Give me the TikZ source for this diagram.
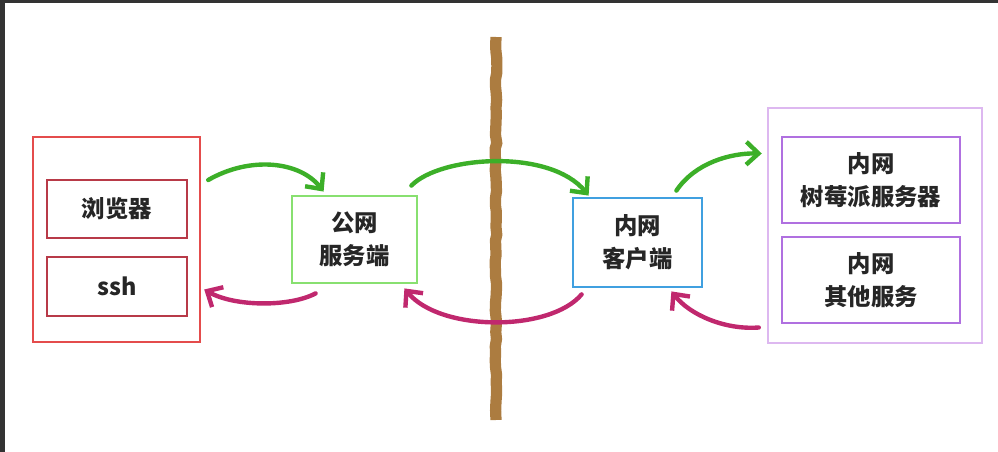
\documentclass[tikz,border=0pt]{standalone}
\usepackage{fontspec}
\newfontfamily\cjk{Noto Sans CJK SC}
\usetikzlibrary{arrows.meta,calc,decorations.pathmorphing}
\definecolor{framegray}{HTML}{333333}
\definecolor{textgray}{HTML}{262626}
\definecolor{arrowgreen}{HTML}{3CAF28}
\definecolor{arrowpink}{HTML}{C0286E}
\definecolor{boxred}{HTML}{E44C4C}
\definecolor{innerred}{HTML}{B83A48}
\definecolor{boxgreen}{HTML}{88E070}
\definecolor{boxblue}{HTML}{40A0E0}
\definecolor{outerpurple}{HTML}{DDB8F0}
\definecolor{innerpurple}{HTML}{B070E0}
\definecolor{wallbrown}{HTML}{AC7C40}

\begin{document}
\begin{tikzpicture}[x=0.02cm, y=-0.02cm]
        % ================= 样式 =================
        \tikzset{
            % 方框:只画边框,文字居中
            box/.style={draw, line width=1.6pt, inner sep=0pt, align=center, text=textgray,
                font=\cjk\bfseries\fontsize{13.3}{19}\selectfont},
            outerbox/.style={draw, line width=1.4pt, inner sep=0pt},
            % 手绘风格的弯箭头
            go/.style={arrowgreen, line width=2.5pt, line cap=round,
                -{Straight Barb[length=7pt, width=13pt, line width=2.5pt]}},
            back/.style={arrowpink, line width=2.5pt, line cap=round,
                -{Straight Barb[length=7pt, width=13pt, line width=2.5pt]}}
        }

        \useasboundingbox (0,0) rectangle (998,452);
        % 截图的深色边
        \fill[framegray] (0,0) rectangle (998,3);
        \fill[framegray] (0,0) rectangle (5,452);

        % ================= 左:访问端 =================
        \node[outerbox, draw=boxred, minimum width=167*0.02cm, minimum height=205*0.02cm] (lbox) at (116.5,239.5) {};
        \node[box, draw=innerred, line width=1.1pt, minimum width=140*0.02cm, minimum height=58*0.02cm] (browser) at (117,209) {浏览器};
        \node[box, draw=innerred, line width=1.1pt, minimum width=140*0.02cm, minimum height=59*0.02cm] (ssh) at (117,286.5) {ssh};

        % ================= 中间:服务端 / 客户端 =================
        \node[box, draw=boxgreen, minimum width=125*0.02cm, minimum height=87*0.02cm] (pub) at (354.5,239.5) {公网\\服务端};
        \node[box, draw=boxblue, minimum width=129*0.02cm, minimum height=89*0.02cm] (cli) at (637.5,242.5) {内网\\客户端};

        % 防火墙 (粗糙的竖墙)
        \coordinate (wallT) at (496,37);
        \coordinate (wallB) at (496,420);
        \draw[wallbrown, line width=6.4pt, decorate,
              decoration={random steps, segment length=4pt, amplitude=0.5pt}] (wallT) -- (wallB);

        % ================= 右:内网服务 =================
        \node[outerbox, draw=outerpurple, minimum width=214*0.02cm, minimum height=235*0.02cm] (rbox) at (875,225.5) {};
        \node[box, draw=innerpurple, minimum width=178*0.02cm, minimum height=86*0.02cm] (rpi) at (871,180) {内网\\树莓派服务器};
        \node[box, draw=innerpurple, minimum width=178*0.02cm, minimum height=86*0.02cm] (other) at (871,280) {内网\\其他服务};

        % ================= 箭头 =================
        \draw[go] ($(lbox.east)+(7,-59.5)$) .. controls (250,156) and (300,161) .. ($(pub.north west)+(33,-3)$);
        \draw[go] ($(pub.north east)+(-7,-9)$) .. controls (440,156) and (550,148) .. ($(cli.north west)+(17,-1)$);
        \draw[go] ($(cli.north east)+(-27,-6)$) .. controls (695,163) and (730,153) .. ($(rbox.west)+(-5,-72)$);

        \draw[back] ($(rbox.west)+(-8,102)$) .. controls (725,330) and (690,315) .. ($(cli.south east)+(-32,3)$);
        \draw[back] ($(cli.south west)+(10,6)$) .. controls (550,332) and (440,332) .. ($(pub.south east)+(-14,4)$);
        \draw[back] ($(pub.south west)+(25,9)$) .. controls (290,307) and (235,307) .. ($(lbox.east)+(3,50)$);

    \end{tikzpicture}
\end{document}
